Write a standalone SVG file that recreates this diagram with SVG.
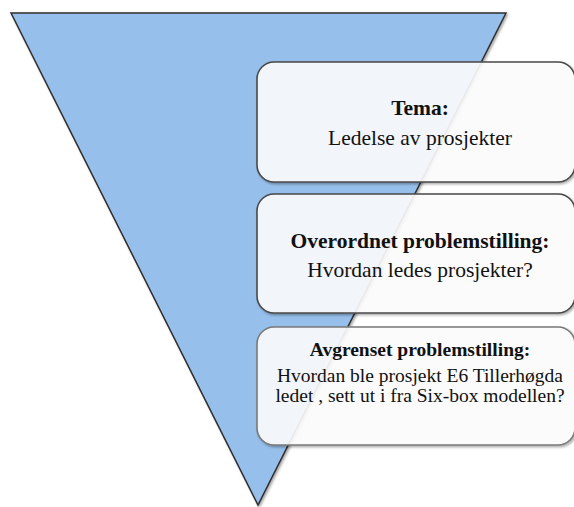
<svg xmlns="http://www.w3.org/2000/svg" width="574" height="507" viewBox="0 0 574 507">
  <defs>
    <filter id="shadow" x="-10%" y="-10%" width="130%" height="130%">
      <feDropShadow dx="1.5" dy="1.5" stdDeviation="1.2" flood-color="#000" flood-opacity="0.35"/>
    </filter>
    <style>
      .tri { fill: #96bfeb; stroke: #2f2f2f; stroke-width: 1.5; stroke-linejoin: miter; }
      .box { fill: #ffffff; fill-opacity: 0.88; stroke: #4a4a4a; stroke-width: 1.6; }
      .box3 { stroke: #7a7a7a; }
      text { font-family: "Liberation Serif", "Times New Roman", serif; fill: #111; text-anchor: middle; }
      .h { font-weight: bold; }
      .big { font-size: 21.5px; }
      .small { font-size: 19.5px; }
    </style>
  </defs>
  <rect width="574" height="507" fill="#ffffff"/>
  <g id="triangle">
    <polygon class="tri" points="11,13 506,13 258,505" filter="url(#shadow)"/>
  </g>
  <g id="tema">
    <rect class="box" x="257" y="62" width="318" height="120" rx="17" filter="url(#shadow)"/>
    <text class="h big" x="420" y="115">Tema:</text>
    <text class="big" x="420" y="145">Ledelse av prosjekter</text>
  </g>
  <g id="overordnet">
    <rect class="box" x="257" y="194" width="318" height="119" rx="17" filter="url(#shadow)"/>
    <text class="h big" x="420" y="248">Overordnet problemstilling:</text>
    <text class="big" x="420" y="277">Hvordan ledes prosjekter?</text>
  </g>
  <g id="avgrenset">
    <rect class="box box3" x="257" y="327" width="318" height="118" rx="17" filter="url(#shadow)"/>
    <text class="h small" x="420" y="356">Avgrenset problemstilling:</text>
    <text class="small" x="420" y="382">Hvordan ble prosjekt E6 Tillerhøgda</text>
    <text class="small" x="420" y="402">ledet , sett ut i fra Six-box modellen?</text>
  </g>
</svg>
